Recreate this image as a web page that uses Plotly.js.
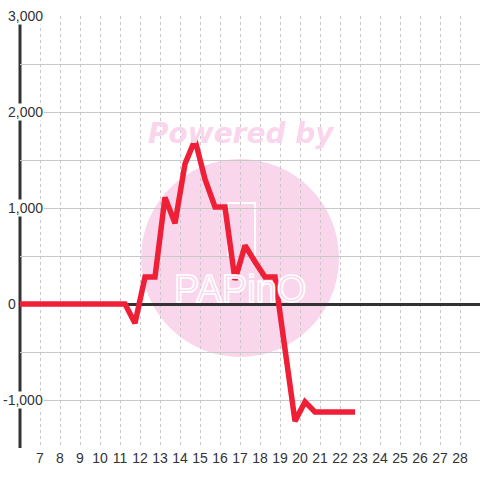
<!DOCTYPE html>
<html>
<head>
<meta charset="utf-8">
<script src="https://cdn.plot.ly/plotly-3.0.1.min.js"></script>
<style>
  html, body { margin: 0; padding: 0; background: #fff; }
  #chart { width: 480px; height: 480px; }
  .scatterlayer .js-line { stroke-linejoin: miter !important; stroke-linecap: butt !important; }
  g.annotation[data-index="6"] text { fill: #fad6ec !important; stroke: #ffffff !important; stroke-width: 1.6px !important; }
</style>
</head>
<body>
<div id="chart"></div>
<script>
// ---- data ----
const days = [5.75, 6.25, 6.75, 7.25, 7.75, 8.25, 8.75, 9.25, 9.75, 10.25, 10.75, 11.25,
              11.75, 12.25, 12.75, 13.25, 13.75, 14.25, 14.75, 15.25, 15.75, 16.25,
              16.75, 17.25, 17.75, 18.25, 18.75, 19.25, 19.75, 20.25, 20.75, 21.25,
              21.75, 22.25, 22.75];
const values = [0, 0, 0, 0, 0, 0, 0, 0, 0, 0, 0, 0,
                -200, 280, 280, 1110, 840, 1460, 1710, 1300, 1010, 1010,
                250, 610, 440, 280, 280, -460, -1220, -1020, -1125, -1125,
                -1125, -1125, -1125];
const xTickVals = [7, 8, 9, 10, 11, 12, 13, 14, 15, 16, 17, 18, 19, 20, 21, 22, 23, 24, 25, 26, 27, 28];
const yGridVals = [-1000, -500, 0, 500, 1000, 1500, 2000, 2500, 3000];
const yLabelVals = [-1000, 0, 1000, 2000, 3000];
const yLabelText = ['-1,000', '0', '1,000', '2,000', '3,000'];
const watermarkTop = 'Powered by';
const watermarkLogo = 'PAPinO';

// ---- styles ----
const dark = '#333333';
const red = '#ee1f36';
const pink = '#fad6ec';
const tickFont = { family: 'Liberation Sans, Arial, sans-serif', size: 14, color: dark };

const annotations = yLabelVals.map((v, i) => ({
  xref: 'paper', yref: 'y',
  x: v === 0 ? -0.006 : 0.052, y: v,
  xanchor: 'right', yanchor: 'middle',
  text: yLabelText[i], showarrow: false,
  font: tickFont, bgcolor: '#ffffff', borderpad: 0
}));
annotations.push({
  xref: 'paper', yref: 'paper', x: 0.4826, y: 0.727,
  xanchor: 'center', yanchor: 'middle', showarrow: false,
  text: '<b><i>' + watermarkTop + '</i></b>',
  font: { family: 'DejaVu Sans, sans-serif', size: 28, color: pink }
});
annotations.push({
  xref: 'paper', yref: 'paper', x: 0.4783, y: 0.368,
  xanchor: 'center', yanchor: 'middle', showarrow: false,
  text: watermarkLogo,
  font: { family: 'Liberation Sans, Arial, sans-serif', size: 38, color: pink }
});

const shapes = [
  { type: 'circle', layer: 'below', xref: 'paper', yref: 'paper',
    xsizemode: 'pixel', ysizemode: 'pixel', xanchor: 0.4783, yanchor: 0.4398,
    x0: -99, x1: 99, y0: -99, y1: 99,
    fillcolor: pink, line: { width: 0 } },
  { type: 'path', layer: 'below', xref: 'paper', yref: 'paper',
    path: 'M 0.452 0.442 L 0.452 0.567 L 0.511 0.567 L 0.511 0.442',
    line: { color: '#ffffff', width: 2 } },
  { type: 'line', layer: 'between', xref: 'paper', yref: 'paper',
    x0: 0, x1: 0, y0: 0, y1: 1,
    line: { color: dark, width: 3 } }
];

const trace = {
  x: days, y: values, type: 'scatter', mode: 'lines',
  line: { color: red, width: 5.5 },
  hoverinfo: 'skip'
};

const layout = {
  width: 480, height: 480,
  margin: { l: 20, r: 0, t: 16, b: 32, pad: 0 },
  paper_bgcolor: '#ffffff', plot_bgcolor: '#ffffff',
  showlegend: false,
  xaxis: {
    range: [6, 29], tickmode: 'array', tickvals: xTickVals,
    ticktext: xTickVals.map(String),
    showgrid: true, gridcolor: '#c8c8c8', gridwidth: 1, griddash: '3px,3px',
    zeroline: false, showline: false, ticks: '',
    tickfont: tickFont, fixedrange: true
  },
  yaxis: {
    range: [-1500, 3000], tickmode: 'array', tickvals: yGridVals,
    showticklabels: false,
    showgrid: true, gridcolor: '#c8c8c8', gridwidth: 1,
    zeroline: true, zerolinecolor: dark, zerolinewidth: 3,
    showline: false, ticks: '', fixedrange: true
  },
  shapes: shapes,
  annotations: annotations
};

Plotly.newPlot('chart', [trace], layout, { staticPlot: true, displayModeBar: false });
</script>
</body>
</html>
